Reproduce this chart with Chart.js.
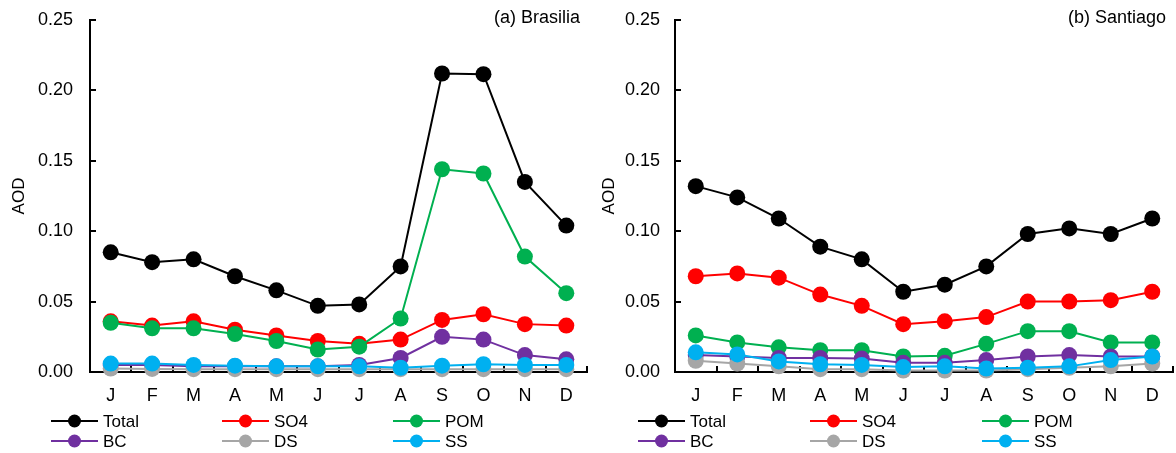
<!DOCTYPE html>
<html>
<head>
<meta charset="utf-8">
<script src="https://cdn.jsdelivr.net/npm/chart.js@4"></script>
<style>
    body { margin: 0; background: #fff; }
    .panel { position: absolute; top: 0; height: 453px; }
    #brasiliaPanel { left: 0; width: 590px; }
    #santiagoPanel { left: 590px; width: 586px; }
</style>
</head>
<body>
<div class="panel" id="brasiliaPanel"><canvas id="brasiliaChart" width="590" height="453"></canvas></div>
<div class="panel" id="santiagoPanel"><canvas id="santiagoChart" width="586" height="453"></canvas></div>
<script>
const months = ['J', 'F', 'M', 'A', 'M', 'J', 'J', 'A', 'S', 'O', 'N', 'D'];
const yTicks = [0, 0.05, 0.10, 0.15, 0.20, 0.25];

const seriesNames = ['Total', 'SO4', 'POM', 'BC', 'DS', 'SS'];
const seriesColors = ['#000000', '#ff0000', '#00b050', '#7030a0', '#a6a6a6', '#00b0f0'];

// (a) Brasilia
const brasiliaTotal = [0.085, 0.078, 0.080, 0.068, 0.058, 0.047, 0.048, 0.075, 0.212, 0.2115, 0.135, 0.104];
const brasiliaSO4 = [0.036, 0.033, 0.036, 0.030, 0.026, 0.022, 0.020, 0.023, 0.037, 0.041, 0.034, 0.033];
const brasiliaPOM = [0.035, 0.031, 0.031, 0.027, 0.022, 0.016, 0.018, 0.038, 0.144, 0.141, 0.082, 0.056];
const brasiliaBC = [0.005, 0.005, 0.004, 0.004, 0.004, 0.004, 0.005, 0.010, 0.025, 0.023, 0.012, 0.009];
const brasiliaDS = [0.0025, 0.0022, 0.002, 0.002, 0.002, 0.002, 0.002, 0.002, 0.002, 0.002, 0.002, 0.002];
const brasiliaSS = [0.006, 0.006, 0.005, 0.0045, 0.004, 0.004, 0.004, 0.003, 0.0045, 0.0055, 0.005, 0.005];

// (b) Santiago
const santiagoTotal = [0.132, 0.124, 0.109, 0.089, 0.080, 0.057, 0.062, 0.075, 0.098, 0.102, 0.098, 0.109];
const santiagoSO4 = [0.068, 0.070, 0.067, 0.055, 0.047, 0.034, 0.036, 0.039, 0.050, 0.050, 0.051, 0.057];
const santiagoPOM = [0.026, 0.021, 0.0175, 0.0155, 0.0155, 0.011, 0.0115, 0.020, 0.029, 0.029, 0.021, 0.021];
const santiagoBC = [0.012, 0.011, 0.010, 0.010, 0.0095, 0.0065, 0.0065, 0.0085, 0.011, 0.012, 0.011, 0.011];
const santiagoDS = [0.008, 0.006, 0.004, 0.002, 0.002, 0.001, 0.001, 0.001, 0.002, 0.003, 0.004, 0.006];
const santiagoSS = [0.014, 0.0125, 0.0075, 0.0055, 0.005, 0.0035, 0.004, 0.0025, 0.003, 0.004, 0.0085, 0.011];

const FONT = '"Liberation Sans", Arial, sans-serif';
const TICK_SIZE = 18;
const TEXT_SIZE = 17;

// inward tick marks, panel label and the 3-column legend
const panelDecor = {
    id: 'panelDecor',
    beforeDatasetsDraw(chart) {
        const ctx = chart.ctx;
        const area = chart.chartArea;
        const y = chart.scales.y;
        ctx.save();
        ctx.strokeStyle = '#000';
        ctx.lineWidth = 2;
        ctx.beginPath();
        yTicks.forEach(v => {
            const py = Math.round(y.getPixelForValue(v));
            ctx.moveTo(area.left, py);
            ctx.lineTo(area.left + 6, py);
        });
        const step = (area.right - area.left) / months.length;
        for (let i = 1; i <= months.length; i++) {
            const px = Math.round(area.left + i * step);
            ctx.moveTo(px, area.bottom);
            ctx.lineTo(px, area.bottom - 6);
        }
        ctx.stroke();
        ctx.restore();
    },
    afterDraw(chart, args, opts) {
        const ctx = chart.ctx;
        const area = chart.chartArea;
        ctx.save();
        ctx.font = TICK_SIZE + 'px ' + FONT;
        ctx.fillStyle = '#000';
        ctx.textAlign = 'right';
        ctx.textBaseline = 'middle';
        ctx.fillText(opts.label, area.right - 7, 18);

        ctx.font = TEXT_SIZE + 'px ' + FONT;
        ctx.textAlign = 'left';
        seriesNames.forEach((name, i) => {
            const lx = opts.legendX[i % 3];
            const ly = opts.legendY[Math.floor(i / 3)];
            ctx.strokeStyle = seriesColors[i];
            ctx.lineWidth = 2;
            ctx.beginPath();
            ctx.moveTo(lx, ly);
            ctx.lineTo(lx + 47, ly);
            ctx.stroke();
            ctx.fillStyle = seriesColors[i];
            ctx.beginPath();
            ctx.arc(lx + 23.5, ly, 6.5, 0, Math.PI * 2);
            ctx.fill();
            ctx.fillStyle = '#000';
            ctx.fillText(name, lx + 52, ly + 1);
        });
        ctx.restore();
    }
};

function buildDatasets(values) {
    return values.map((data, i) => ({
        label: seriesNames[i],
        data: data,
        borderColor: seriesColors[i],
        backgroundColor: seriesColors[i],
        borderWidth: 2,
        pointRadius: 8,
        pointHoverRadius: 8,
        pointBorderWidth: 0,
        tension: 0,
        clip: false,
        order: values.length - i
    }));
}

function makeChart(canvasId, values, cfg) {
    const ctx = document.getElementById(canvasId).getContext('2d');
    return new Chart(ctx, {
        type: 'line',
        data: {
            labels: months,
            datasets: buildDatasets(values)
        },
        options: {
            responsive: false,
            devicePixelRatio: 1,
            animation: false,
            events: [],
            layout: {
                autoPadding: false,
                padding: { top: 20, right: cfg.padRight, bottom: 0, left: 0 }
            },
            plugins: {
                legend: { display: false },
                tooltip: { enabled: false },
                panelDecor: cfg
            },
            scales: {
                x: {
                    type: 'category',
                    offset: true,
                    grid: { display: false, drawTicks: false },
                    border: { display: true, color: '#000', width: 2 },
                    ticks: {
                        color: '#000',
                        padding: 13,
                        maxRotation: 0,
                        autoSkip: false,
                        font: { family: FONT, size: TICK_SIZE }
                    },
                    afterFit(scale) {
                        scale.height = 81;
                        scale.paddingLeft = 0;
                        scale.paddingRight = 0;
                    }
                },
                y: {
                    min: 0,
                    max: 0.25,
                    grid: { display: false, drawTicks: false },
                    border: { display: true, color: '#000', width: 2 },
                    ticks: {
                        stepSize: 0.05,
                        color: '#000',
                        padding: cfg.tickPad,
                        font: { family: FONT, size: TICK_SIZE },
                        callback: v => v.toFixed(2)
                    },
                    title: {
                        display: true,
                        text: 'AOD',
                        color: '#000',
                        padding: { top: 9, bottom: 0 },
                        font: { family: FONT, size: TEXT_SIZE }
                    },
                    afterFit(scale) {
                        scale.width = cfg.axisWidth;
                        scale.paddingTop = 0;
                        scale.paddingBottom = 0;
                    }
                }
            }
        },
        plugins: [panelDecor]
    });
}

document.addEventListener('DOMContentLoaded', function() {
    makeChart('brasiliaChart',
        [brasiliaTotal, brasiliaSO4, brasiliaPOM, brasiliaBC, brasiliaDS, brasiliaSS],
        { label: '(a) Brasilia', axisWidth: 90, padRight: 3, tickPad: 17,
          legendX: [51, 222, 393], legendY: [421, 441] });

    makeChart('santiagoChart',
        [santiagoTotal, santiagoSO4, santiagoPOM, santiagoBC, santiagoDS, santiagoSS],
        { label: '(b) Santiago', axisWidth: 85, padRight: 3, tickPad: 15,
          legendX: [48, 220, 392], legendY: [421, 441] });
});
</script>
</body>
</html>
